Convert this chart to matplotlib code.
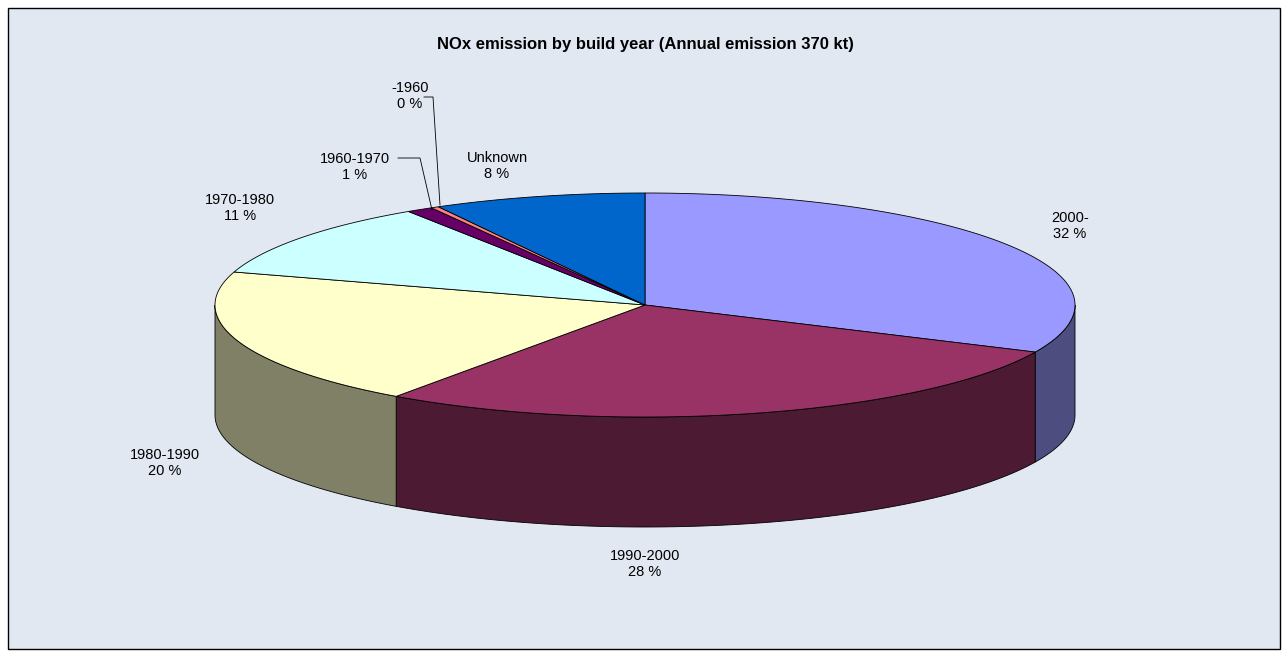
import numpy as np
import matplotlib.pyplot as plt
from matplotlib.patches import Polygon, Rectangle

plt.rcParams['font.family'] = ['Liberation Sans', 'DejaVu Sans']

labels = ['2000-', '1990-2000', '1980-1990', '1970-1980', '1960-1970', '-1960', 'Unknown']
shares = [32, 28, 20, 11, 1, 0.3, 8]
pct_text = ['32 %', '28 %', '20 %', '11 %', '1 %', '0 %', '8 %']
top_colors = ['#9999FF', '#993366', '#FFFFCC', '#CCFFFF', '#660066', '#FF8080', '#0066CC']
side_colors = ['#4D4D80', '#4D1A33', '#808066', '#668080', '#330033', '#804040', '#003366']

# label positions (pixel) and optional leader lines
label_pos = [(1070, 226), (645, 564), (165, 463), (240, 208), (355, 167), (410, 96), (497, 166)]
leaders = {4: [(398, 158), (420, 158), (432, 210)], 5: [(424, 97), (433, 97), (440, 205)]}

cx, cy, rx, ry, depth = 645, 305, 430, 112, 110

fig = plt.figure(figsize=(12.88, 6.57), dpi=100)
fig.patch.set_facecolor('white')
ax = fig.add_axes([0, 0, 1, 1])
ax.set_xlim(0, 1288)
ax.set_ylim(657, 0)
ax.axis('off')
ax.add_patch(Rectangle((8, 8), 1272, 641, facecolor='#E1E8F1', edgecolor='black', lw=1))

def pt(t, dy=0):
    r = np.radians(t)
    return cx + rx * np.cos(r), cy - ry * np.sin(r) + dy

fr = np.array(shares) / sum(shares)
ends = 90 - 360 * np.cumsum(fr)
starts = np.concatenate([[90], ends[:-1]])

# front sides
for i in range(len(shares)):
    a, b = max(ends[i], -180), min(starts[i], 0)
    if a >= b:
        continue
    ts = np.linspace(b, a, 80)
    top = [pt(t) for t in ts]
    bot = [pt(t, depth) for t in ts[::-1]]
    ax.add_patch(Polygon(top + bot, closed=True, facecolor=side_colors[i],
                         edgecolor='black', lw=0.6))

# tops
for i in range(len(shares)):
    ts = np.linspace(starts[i], ends[i], max(4, int(abs(starts[i] - ends[i]) * 2)))
    poly = [(cx, cy)] + [pt(t) for t in ts]
    ax.add_patch(Polygon(poly, closed=True, facecolor=top_colors[i],
                         edgecolor='black', lw=0.6))

for i, (x, y) in enumerate(label_pos):
    ax.text(x, y, labels[i] + '\n' + pct_text[i], ha='center', va='center',
            fontsize=10.5, linespacing=1.25)
    if i in leaders:
        xs, ys = zip(*leaders[i])
        ax.plot(xs, ys, color='black', lw=0.6)

ax.text(645, 45, 'NOx emission by build year (Annual emission 370 kt)', ha='center',
        va='center', fontsize=12, fontweight='bold')

fig.savefig('out.png', dpi=100)
